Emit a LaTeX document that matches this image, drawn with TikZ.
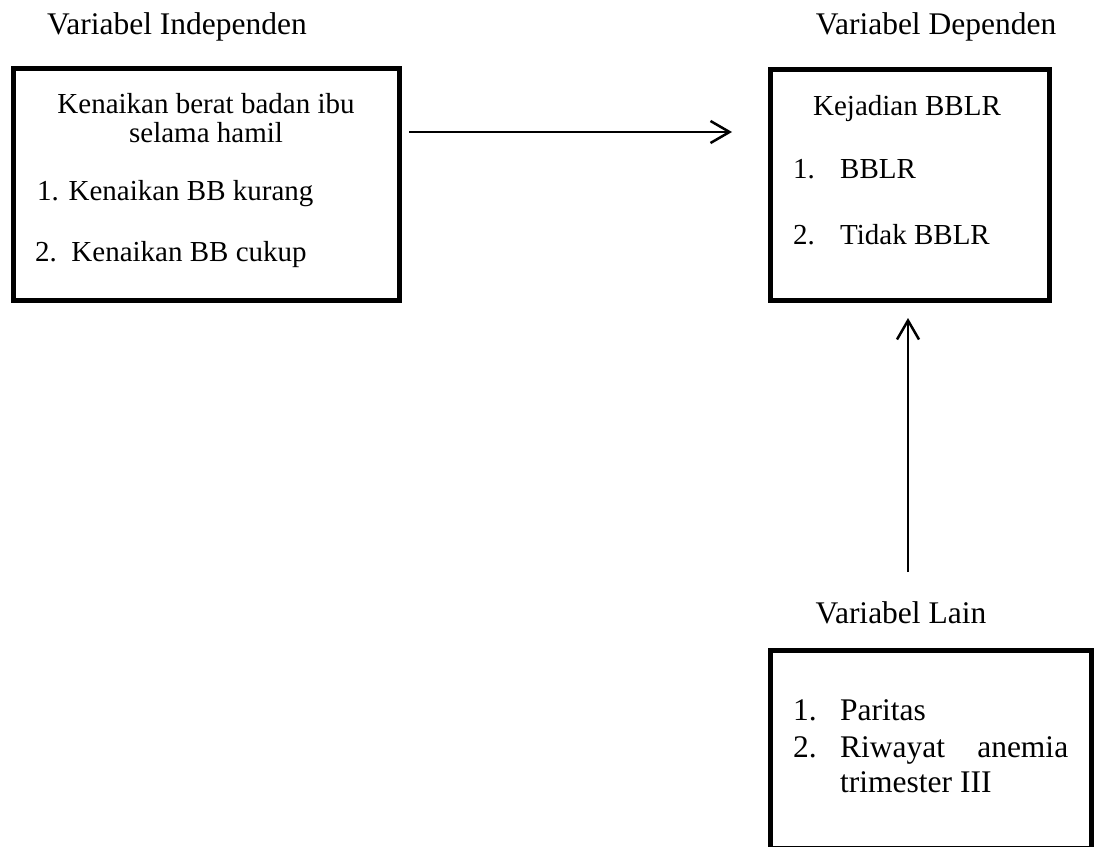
\documentclass[tikz,border=0pt]{standalone}
\usepackage{fontspec}
\setmainfont{Liberation Serif}
\usetikzlibrary{arrows.meta}
\begin{document}
\begin{tikzpicture}[x=1pt,y=-1pt,
  box/.style={draw,line width=5pt,inner sep=0pt},
  txt/.style={inner sep=0pt,font=\fontsize{29}{34}\selectfont},
  big/.style={inner sep=0pt,font=\fontsize{31.5}{36}\selectfont},
  tight/.style={text height=20pt,text depth=0pt},
  arr/.style={line width=2.5pt,-{Straight Barb[length=19pt,width=22pt]}}]
\clip (0,0) rectangle (1094,846);
\fill[white] (0,0) rectangle (1094,846);
% boxes
\node[box,minimum width=386pt,minimum height=232pt] (indep) at (206,184) {};
\node[box,minimum width=279pt,minimum height=231pt] (dep) at (909.5,184.5) {};
\node[box,minimum width=321.5pt,minimum height=198pt] (lain) at (930.75,749) {};
% titles
\node[big,anchor=base] (tIndep) at (177,34) {Variabel Independen};
\node[big,anchor=base] (tDep) at (936,34) {Variabel Dependen};
\node[big,anchor=base] (tLain) at (901,623) {Variabel Lain};
% left box text
\node[txt,tight,anchor=base] (l1) at (206,113) {Kenaikan berat badan ibu};
\node[txt,tight,anchor=base] (l2) at (206,142) {selama hamil};
\node[txt,anchor=base west] (l3) at (37,200) {1. Kenaikan BB kurang};
\node[txt,anchor=base west] (l4) at (35,261) {2.\ \ Kenaikan BB cukup};
% right box text
\node[txt,anchor=base] (r1) at (907,115) {Kejadian BBLR};
\node[txt,anchor=base west] (r2n) at (793,178) {1.};
\node[txt,anchor=base west] (r2) at (840,178) {BBLR};
\node[txt,anchor=base west] (r3n) at (793,244) {2.};
\node[txt,anchor=base west] (r3) at (840,244) {Tidak BBLR};
% bottom box text
\node[big,anchor=base west] (b1n) at (793,720) {1.};
\node[big,anchor=base west] (b1) at (840,720) {Paritas};
\node[big,anchor=base west] (b2n) at (793,757) {2.};
\node[big,anchor=base west] (b2) at (840,757) {\hbox to 228pt{Riwayat\hfill anemia}};
\node[big,anchor=base west] (b3) at (840,792) {trimester III};
% connectors
\coordinate (h1) at (409,132);
\coordinate (h2) at (732,132);
\coordinate (v1) at (908,572);
\coordinate (v2) at (908,318);
\draw[arr] (h1) -- (h2);
\draw[arr] (v1) -- (v2);
\end{tikzpicture}
\end{document}
